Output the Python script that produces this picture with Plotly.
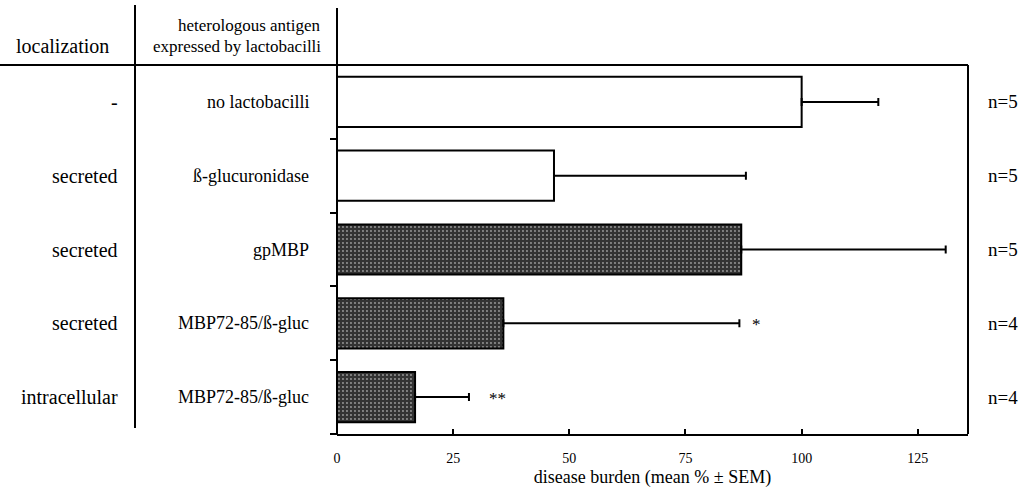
import plotly.graph_objects as go

# Rows of the experiment, top to bottom
localization = ["-", "secreted", "secreted", "secreted", "intracellular"]
antigen = ["no lactobacilli", "ß-glucuronidase", "gpMBP", "MBP72-85/ß-gluc", "MBP72-85/ß-gluc"]
disease_burden = [100, 46.7, 87, 35.8, 16.8]      # mean %
sem = [16.5, 41.3, 44.0, 50.8, 11.6]             # + SEM
group_size = [5, 5, 5, 4, 4]
significance = ["", "", "", "*", "**"]

x_ticks = [0, 25, 50, 75, 100, 125]
x_title = "disease burden (mean % ± SEM)"
header_loc = "localization"
header_antigen = ["heterologous antigen", "expressed by lactobacilli"]

FONT = "Liberation Serif"
W, H = 1027, 488
L, R, T, B = 337, 968, 65, 434          # plot box in pixels


def px(x):
    return (x - L) / (R - L)


def py(y):
    return (B - y) / (B - T)


rows = [f"{loc} {ag}" for loc, ag in zip(localization, antigen)]
is_mbp = ["MBP" in a for a in antigen]

fig = go.Figure()

# open bars: control groups
open_idx = [i for i, m in enumerate(is_mbp) if not m]
fig.add_trace(go.Bar(
    y=[rows[i] for i in open_idx],
    x=[disease_burden[i] for i in open_idx],
    orientation="h",
    width=0.68,
    marker=dict(color="white", line=dict(color="black", width=2)),
    error_x=dict(type="data", symmetric=False,
                 array=[sem[i] for i in open_idx],
                 arrayminus=[0 for _ in open_idx],
                 color="black", thickness=2, width=4),
    showlegend=False,
))

# stippled bars: MBP-derived antigens
mbp_idx = [i for i, m in enumerate(is_mbp) if m]
fig.add_trace(go.Bar(
    y=[rows[i] for i in mbp_idx],
    x=[disease_burden[i] for i in mbp_idx],
    orientation="h",
    width=0.68,
    marker=dict(color="#333333",
                line=dict(color="black", width=2),
                pattern=dict(shape=".", fillmode="overlay", fgcolor="#ffffff",
                             size=4, solidity=0.18)),
    error_x=dict(type="data", symmetric=False,
                 array=[sem[i] for i in mbp_idx],
                 arrayminus=[0 for _ in mbp_idx],
                 color="black", thickness=2, width=4),
    showlegend=False,
))

annotations = []
for i, r in enumerate(rows):
    annotations.append(dict(x=px(120), xref="paper", y=r, yref="y", text=localization[i],
                            showarrow=False, xanchor="right", yanchor="middle",
                            font=dict(family=FONT, size=20, color="black")))
    annotations.append(dict(x=px(311), xref="paper", y=r, yref="y", text=antigen[i],
                            showarrow=False, xanchor="right", yanchor="middle",
                            font=dict(family=FONT, size=18, color="black")))
    annotations.append(dict(x=px(986), xref="paper", y=r, yref="y", text=f"n={group_size[i]}",
                            showarrow=False, xanchor="left", yanchor="middle",
                            font=dict(family=FONT, size=19, color="black")))
    if significance[i]:
        annotations.append(dict(x=disease_burden[i] + sem[i], xref="x", y=r, yref="y",
                                text=significance[i], showarrow=False,
                                xanchor="center", yanchor="middle",
                                xshift=17 if len(significance[i]) == 1 else 29, yshift=-1,
                                font=dict(family=FONT, size=17, color="black")))

# column headers
annotations.append(dict(x=px(62), xref="paper", y=py(46), yref="paper", text=header_loc,
                        showarrow=False, xanchor="center", yanchor="middle",
                        font=dict(family=FONT, size=20, color="black")))
for text, y in zip(header_antigen, (26, 46)):
    annotations.append(dict(x=px(323), xref="paper", y=py(y), yref="paper", text=text,
                            showarrow=False, xanchor="right", yanchor="middle",
                            font=dict(family=FONT, size=17, color="black")))

line = dict(color="black", width=2)
shapes = [
    # header rule spanning the table
    dict(type="line", xref="paper", yref="paper", x0=px(0), x1=1, y0=1, y1=1, line=line),
    # left axis line, extended into the header
    dict(type="line", xref="paper", yref="paper", x0=0, x1=0, y0=0, y1=py(8), line=line),
    # small overhang of the x axis left of zero
    dict(type="line", xref="paper", yref="paper", x0=px(330), x1=0, y0=0, y1=0, line=line),
    # column separator
    dict(type="line", xref="paper", yref="paper", x0=px(135), x1=px(135), y0=py(428), y1=py(5), line=line),
    # right frame
    dict(type="line", xref="paper", yref="paper", x0=1, x1=1, y0=0, y1=1, line=line),
]

fig.update_layout(
    width=W, height=H,
    margin=dict(l=L, r=W - R, t=T, b=H - B, autoexpand=False),
    paper_bgcolor="white", plot_bgcolor="white",
    barmode="overlay",
    font=dict(family=FONT, color="black"),
    annotations=annotations,
    shapes=shapes,
    xaxis=dict(range=[0, 135.8], tickvals=x_ticks, ticktext=[str(t) for t in x_ticks],
               ticks="inside", ticklen=5, tickwidth=2, tickcolor="black",
               showline=True, linecolor="black", linewidth=2,
               showgrid=False, zeroline=False,
               tickfont=dict(family=FONT, size=14, color="black"),
               ticklabelstandoff=10,
               title=dict(text=x_title, font=dict(family=FONT, size=18, color="black"), standoff=6),
               automargin=False),
    yaxis=dict(categoryorder="array", categoryarray=rows, range=[4.5, -0.5],
               showticklabels=False, ticks="outside", tickson="boundaries",
               ticklen=6, tickwidth=1.5, tickcolor="black",
               showline=False, showgrid=False, zeroline=False, automargin=False),
)

fig.write_html("out.html")
